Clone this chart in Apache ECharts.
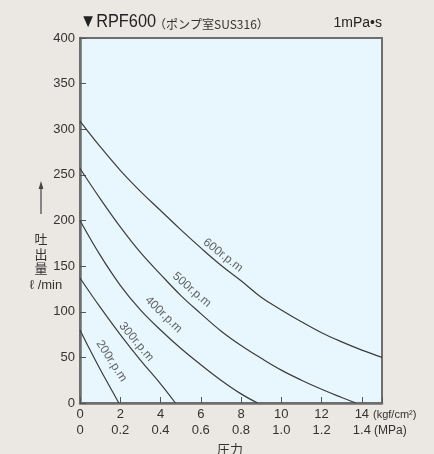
<!DOCTYPE html>
<html>
<head>
<meta charset="utf-8">
<script src="https://cdn.jsdelivr.net/npm/echarts@6.0.0/dist/echarts.min.js"></script>
<style>
  html, body { margin: 0; padding: 0; background: #ebe7e2; }
  #main { width: 434px; height: 454px; }
</style>
</head>
<body>
<div id="main"></div>
<script>
// pump curves: pressure (kgf/cm2) vs flow (l/min)
var rpmNames = ['200r.p.m', '300r.p.m', '400r.p.m', '500r.p.m', '600r.p.m'];

var p200 = [0, 0.5, 1, 1.5, 1.93];
var q200 = [80, 58, 37, 17, 0];

var p300 = [0, 1, 2, 3, 4, 4.74];
var q300 = [137, 105, 75, 47, 21, 0];

var p400 = [0, 1, 2, 3, 4, 5, 6, 7, 8, 8.82];
var q400 = [200, 162, 129, 102, 80, 60, 42, 25, 10, 0];

var p500 = [0, 1, 2, 3, 4, 5, 6, 7, 8, 9, 10, 11, 12, 13, 13.7];
var q500 = [257, 224, 193, 165, 141, 118, 98, 79, 63, 49, 36, 25, 15, 6, 0];

var p600 = [0, 1, 2, 3, 4, 5, 6, 7, 8, 9, 10, 11, 12, 13, 14, 15];
var q600 = [309, 281, 255, 232, 211, 190, 170, 151, 134, 116, 102, 89, 77, 67, 58, 50];

// where the rpm labels sit (pressure, flow) and their tilt
var labelAt = [[1.56, 46], [2.8, 67], [4.15, 97], [5.55, 124], [7.1, 162]];
var labelAngle = [-57, -50, -44, -41, -38];

var curves = [[p200, q200], [p300, q300], [p400, q400], [p500, q500], [p600, q600]];

var lineColor = '#3c3c3c';
var textColor = '#333';
var latin = '"Liberation Sans", Arial, sans-serif';
var cjk = '"Noto Sans CJK JP", sans-serif';

var myChart = echarts.init(document.getElementById('main'));

var series = curves.map(function(c, i) {
  return {
    type: 'line',
    name: rpmNames[i],
    data: c[0].map(function(x, j) { return [x, c[1][j]]; }),
    smooth: 0.4,
    symbol: 'none',
    silent: true,
    lineStyle: { color: lineColor, width: 1.2 }
  };
});

series.push({
  type: 'scatter',
  symbolSize: 1,
  silent: true,
  itemStyle: { color: 'rgba(0,0,0,0)' },
  label: {
    show: true,
    position: 'inside',
    formatter: '{b}',
    color: lineColor,
    fontSize: 12,
    fontFamily: latin
  },
  data: labelAt.map(function(p, i) {
    return { name: rpmNames[i], value: p, label: { rotate: labelAngle[i] } };
  })
});

myChart.setOption({
  backgroundColor: '#ebe7e2',
  animation: false,
  grid: {
    left: 80, right: 52, top: 38, bottom: 51,
    show: true,
    backgroundColor: '#e8f6fd',
    borderColor: '#6e6e6e',
    borderWidth: 2
  },
  xAxis: [{
    type: 'value',
    min: 0, max: 15, interval: 2,
    splitLine: { show: false },
    axisLine: { lineStyle: { color: '#6e6e6e', width: 2.5 } },
    axisTick: { inside: true, length: 6, lineStyle: { color: '#555', width: 1 } },
    axisLabel: {
      margin: 5,
      fontSize: 13,
      color: textColor,
      fontFamily: latin,
      formatter: function(v) { return v === 15 ? '' : String(v); }
    }
  }, {
    type: 'value',
    position: 'bottom',
    offset: 16,
    min: 0, max: 15, interval: 2,
    splitLine: { show: false },
    axisLine: { show: false },
    axisTick: { show: false },
    axisLabel: {
      margin: 5,
      fontSize: 13,
      color: textColor,
      fontFamily: latin,
      formatter: function(v) {
        if (v === 15) return '';
        return v === 0 ? '0' : (v / 10).toFixed(1);
      }
    }
  }],
  yAxis: {
    type: 'value',
    min: 0, max: 400, interval: 50,
    splitLine: { show: false },
    axisLine: { lineStyle: { color: '#6e6e6e', width: 2.5 } },
    axisTick: { inside: true, length: 6, lineStyle: { color: '#555', width: 1 } },
    axisLabel: { margin: 5, fontSize: 13, color: textColor, fontFamily: latin }
  },
  graphic: [
    {
      type: 'text', x: 80, y: 22, scaleX: 0.86,
      style: { text: '▼RPF600', font: '19px ' + latin, fill: '#222', verticalAlign: 'middle' }
    },
    {
      type: 'text', x: 154, y: 24,
      style: { text: '（ポンプ室SUS316）', font: '12px ' + cjk, fill: '#333', verticalAlign: 'middle' }
    },
    {
      type: 'text', x: 382, y: 23,
      style: { text: '1mPa•s', font: '14px ' + latin, fill: '#222', align: 'right', verticalAlign: 'middle' }
    },
    {
      type: 'text', x: 373, y: 415,
      style: { text: '(kgf/cm²)', font: '11px ' + latin, fill: textColor, verticalAlign: 'middle' }
    },
    {
      type: 'text', x: 374, y: 431,
      style: { text: '(MPa)', font: '12px ' + latin, fill: textColor, verticalAlign: 'middle' }
    },
    {
      type: 'text', x: 230, y: 449,
      style: { text: '圧力', font: '13px ' + cjk, fill: textColor, align: 'center', verticalAlign: 'middle' }
    },
    {
      type: 'line',
      shape: { x1: 41, y1: 214, x2: 41, y2: 187 },
      style: { stroke: '#444', lineWidth: 1.2 }
    },
    {
      type: 'polygon',
      shape: { points: [[41, 181], [38.6, 189], [43.4, 189]] },
      style: { fill: '#444' }
    },
    {
      type: 'text', x: 41, y: 254,
      style: {
        text: '吐\n出\n量', font: '13px ' + cjk, lineHeight: 14.5,
        fill: textColor, align: 'center', verticalAlign: 'middle'
      }
    },
    {
      type: 'text', x: 46, y: 285,
      style: { text: 'ℓ /min', font: '13px ' + latin, fill: textColor, align: 'center', verticalAlign: 'middle' }
    }
  ],
  series: series
});
</script>
</body>
</html>
